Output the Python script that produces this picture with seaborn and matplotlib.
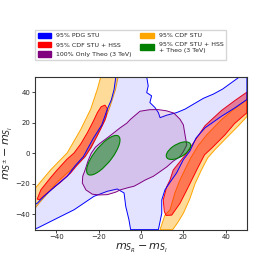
import matplotlib
matplotlib.use("Agg")
import matplotlib.pyplot as plt
import seaborn as sns
from matplotlib.patches import Patch, Ellipse

# region boundaries (data units)
pdg_x = [-11.9, 2.7, 3.4, 2.7, 5.0, 4.2, 6.6, 8.2, 9.0, 12.1, 16.8, 20.8, 24.7, 29.5, 34.1, 38.5, 43.5, 46.5,
         50, 50, 44.3, 38.1, 30.2, 26.0, 23.1, 20.0, 16.8, 13.7, 11.3, 9.8, 9.8, 8.2,
         -4.9, -5.7, -7.2, -8.0, -11.2, -15.9, -22.2, -31.6, -41.0, -48.9, -50,
         -50, -48.9, -45.8, -40.0, -34.8, -31.0, -27.2, -22.5, -18.5, -15.9, -14.0, -12.7]
pdg_y = [50, 50, 44.1, 39.7, 37.6, 33.2, 29.9, 26.6, 23.3, 24.9, 26.6, 28.9, 32.1, 36.0, 38.7, 42.0, 47.0, 50,
         50, 35.2, 29.7, 24.3, 16.6, 10.0, 1.5, -4.2, -12.9, -19.0, -24.0, -30.6, -39.3, -50,
         -50, -43.5, -34.8, -26.0, -23.4, -24.9, -28.2, -37.0, -43.5, -49.0, -49.5,
         -33.5, -32.6, -28.2, -21.0, -15.0, -8.0, -2.2, 9.8, 18.6, 28.9, 35.0, 41.8]

cdf_left_x = [-19.0, -20.6, -23.7, -28.4, -34.8, -42.6, -50, -50, -48.0, -44.5, -40.0, -35.0, -30.0,
              -26.4, -23.5, -20.9, -17.0, -14.6, -12.0, -10.8]
cdf_left_y = [50, 42, 29, 15.7, 0.3, -10.8, -23, -36, -32.5, -27, -19.5, -13.1, -7.5,
              -2.2, 4, 10.9, 21.8, 30.6, 42, 50]
cdf_right_x = [9.0, 11.3, 13.7, 16.0, 18.4, 21.0, 23.5, 27.0, 31.0, 38.0, 44.0, 50,
               50, 46.0, 41.0, 35.0, 31.5, 28.5, 25.5, 23.0, 20.0, 17.5, 15.0]
cdf_right_y = [-50, -40.5, -37, -26, -17.5, -10, -3, 5, 12, 22, 29, 35,
               24, 18, 11, 2.5, -3, -11, -20, -30, -39.3, -45, -50]

hss_left_x = [-17.0, -15.8, -16.5, -17.0, -19.0, -20.9, -23.5, -26.4, -30.0, -33.2, -38.0, -44.2, -48.0, -49.0,
              -47.3, -43.0, -39.5, -35.0, -31.6, -28.5, -25.3, -22.5, -20.6, -18.8]
hss_left_y = [31.5, 29, 24, 21.8, 16, 10.9, 4, -2.2, -7.5, -12.9, -19, -26, -30.5, -30,
              -24, -16.5, -10.8, -4, 0.2, 6, 13.5, 21, 26.6, 30.5]
hss_right_x = [50, 44.3, 38.0, 30.2, 26.3, 21.0, 15.2, 13.7, 12.1, 10.5, 11.0, 11.8, 14.5,
               18.4, 21.6, 24.5, 27.0, 30.0, 33.5, 39.6, 44.2, 50]
hss_right_y = [40, 34.5, 28, 18, 10, -1, -11, -17.5, -22, -30.6, -38, -40.7, -40.5,
               -32.8, -24.1, -16, -9, -1, 3.5, 12, 19.5, 26.5]

theo_x = [-6.7, -4.9, -0.5, 4.0, 8.0, 12.0, 15.5, 18.4, 20.0, 20.8, 21.6, 20.0, 18.4, 15.2, 12.1, 8.0, 5.8,
          2.0, -0.5, -3.3, -6.0, -9.6, -12.0, -15.9, -20.0, -23.0, -26.0, -27.7, -27.5, -26.4, -25.0,
          -23.5, -21.5, -19.3, -16.0, -13.1, -10.0]
theo_y = [19.7, 22.3, 27.5, 28.5, 28.6, 27.8, 26.3, 22.3, 18.6, 12.0, 5.4, 1.0, -2.2, -5.2, -9.0, -13.0, -15.1,
          -17.5, -19.5, -21.6, -22.5, -23.9, -25.5, -27.1, -27.3, -26.8, -24.0, -19.5, -15.0, -11.0, -5.0,
          0.0, 4.0, 6.6, 10.0, 13.1, 16.5]

# combined fit ellipses: centre x, centre y, width, height, angle
comb_cx = [-17.8, 17.7]
comb_cy = [-1.3, 1.7]
comb_w = [29.0, 14.5]
comb_h = [9.0, 7.5]
comb_ang = [62, 45]

labels = ["95% PDG STU", "95% CDF STU + HSS", "100% Only Theo (3 TeV)",
          "95% CDF STU", "95% CDF STU + HSS\n+ Theo (3 TeV)"]
colors = ["blue", "red", "purple", "orange", "green"]

sns.set_theme(style="ticks")
plt.rcParams['font.family'] = ['DejaVu Sans']

fig = plt.figure(figsize=(2.58, 2.58), dpi=100)
ax = fig.add_axes([0.136, 0.110, 0.821, 0.592])

# orange bands
for xs, ys in [(cdf_left_x, cdf_left_y), (cdf_right_x, cdf_right_y)]:
    ax.fill(xs, ys, facecolor="orange", alpha=0.4, edgecolor="none")
    ax.fill(xs, ys, facecolor="none", edgecolor="orange", lw=0.7)
# red bands
for xs, ys in [(hss_left_x, hss_left_y), (hss_right_x, hss_right_y)]:
    ax.fill(xs, ys, facecolor="red", alpha=0.45, edgecolor="none")
    ax.fill(xs, ys, facecolor="none", edgecolor="red", lw=0.7)
# PDG
ax.fill(pdg_x, pdg_y, facecolor="blue", alpha=0.11, edgecolor="none")
ax.fill(pdg_x, pdg_y, facecolor="none", edgecolor="blue", lw=0.7)
# theory only
ax.fill(theo_x, theo_y, facecolor="purple", alpha=0.15, edgecolor="none")
ax.fill(theo_x, theo_y, facecolor="none", edgecolor="purple", lw=0.7)
# combined
for cx, cy, w, h, a in zip(comb_cx, comb_cy, comb_w, comb_h, comb_ang):
    ax.add_patch(Ellipse((cx, cy), w, h, angle=a, facecolor=(0, 0.5, 0, 0.5),
                         edgecolor="green", lw=0.8))

ax.set_xlim(-50, 50)
ax.set_ylim(-50, 50)
ax.set_xticks([-40, -20, 0, 20, 40])
ax.set_yticks([-40, -20, 0, 20, 40])
ax.tick_params(labelsize=5, length=2, width=0.6, pad=1.5)
for s in ax.spines.values():
    s.set_linewidth(0.8)
    s.set_color("0.2")
ax.set_xlabel(r"$m_{S_R} - m_{S_I}$", fontsize=8, labelpad=1)
ax.set_ylabel(r"$m_{S^{\pm}} - m_{S_I}$", fontsize=8, labelpad=0)

handles = [Patch(facecolor=c, edgecolor=c) for c in colors]
fig.legend(handles, labels, ncol=2, loc="upper left", bbox_to_anchor=(0.1357, 0.8837),
           fontsize=4.5, frameon=True, fancybox=False, edgecolor="0.8",
           handlelength=2.2, handleheight=1.0, columnspacing=1.3, labelspacing=0.55,
           borderpad=0.4, borderaxespad=0, handletextpad=0.8)

fig.savefig("out.png", dpi=100)
